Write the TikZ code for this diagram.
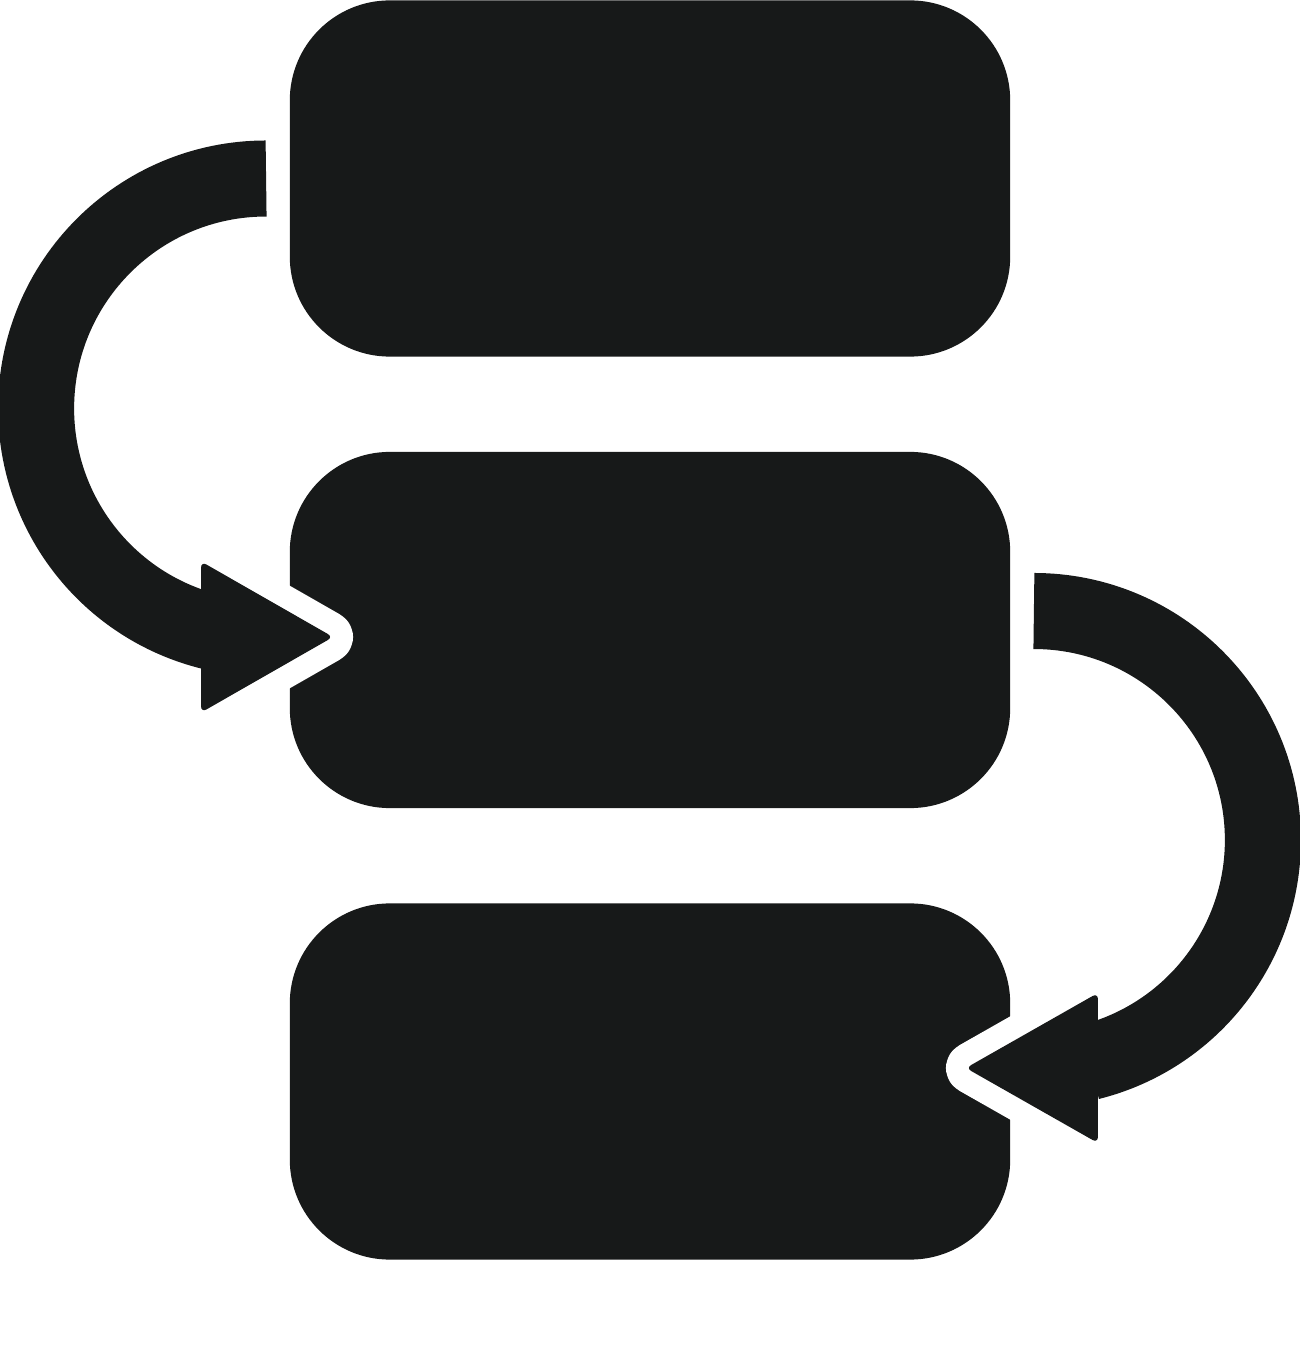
\documentclass[tikz,border=0pt]{standalone}
\usetikzlibrary{calc}

\definecolor{ink}{HTML}{171919}
\tikzset{
  stepbox/.style={rectangle, rounded corners=1cm, fill=ink, minimum width=7.2cm, minimum height=3.56cm, inner sep=0pt},
  band/.style={draw=ink, line width=0.76cm},
  headrim/.style={draw=white, line width=0.46cm, line join=round, rounded corners=0.06cm},
  headfill/.style={fill=ink, rounded corners=0.06cm}
}

\begin{document}
\begin{tikzpicture}[x=0.01cm, y=0.01cm]

    \useasboundingbox (0,0) rectangle (1300,1350);

    \node[stepbox] (box1) at (650,1171.5) {};
    \node[stepbox] (box2) at (650,720) {};
    \node[stepbox] (box3) at (650,268.5) {};

    % where the bands start and the heads point
    \coordinate (start1) at ($(box1.west)+(-23,0)$);
    \coordinate (tip1) at ($(box2.west)+(44,-7)$);
    \coordinate (start2) at ($(box2.east)+(23,19)$);
    \coordinate (tip2) at ($(box3.east)+(-45,13.5)$);

    % white rims cut into the boxes
    \draw[headrim] (tip1) -- ++(-132,75.5) -- ++(0,-151) -- cycle;
    \draw[headrim] (tip2) -- ++(132,75) -- ++(0,-150) -- cycle;

    \draw[band] (start1) arc[start angle=90, end angle=256, radius=230];
    \draw[band] (start2) arc[start angle=90, end angle=-76, radius=229];

    \fill[headfill] (tip1) -- ++(-132,75.5) -- ++(0,-151) -- cycle;
    \fill[headfill] (tip2) -- ++(132,75) -- ++(0,-150) -- cycle;

\end{tikzpicture}
\end{document}
